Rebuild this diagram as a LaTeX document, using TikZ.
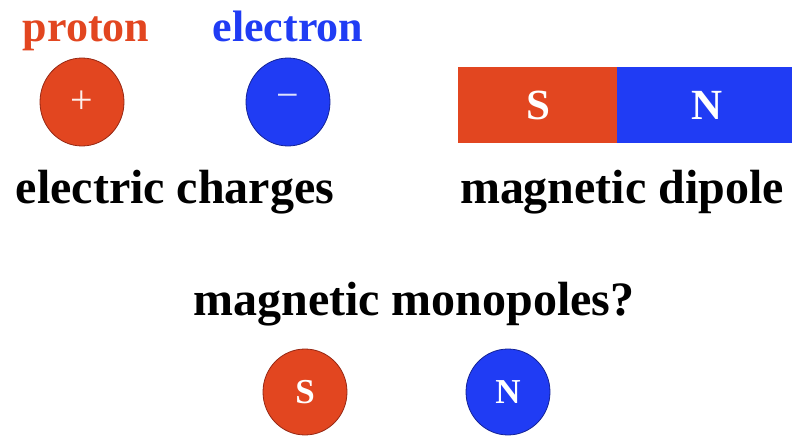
\documentclass[tikz,border=0pt]{standalone}
\usepackage{fontspec}
\setmainfont{Liberation Serif}
\definecolor{pred}{RGB}{226,70,32}
\definecolor{pblue}{RGB}{32,60,244}
\definecolor{predd}{RGB}{150,40,20}
\definecolor{pblued}{RGB}{20,35,150}
\tikzset{
  lbl/.style={anchor=base, inner sep=0pt, font=\fontsize{48}{50}\selectfont\bfseries, text=black},
  toplbl/.style={anchor=base, inner sep=0pt, font=\fontsize{44}{46}\selectfont\bfseries},
  barlet/.style={inner sep=0pt, text=white, font=\fontsize{43}{44}\selectfont\bfseries},
  ballet/.style={inner sep=0pt, text=white, font=\fontsize{35}{36}\selectfont\bfseries},
  sign/.style={inner sep=0pt, text=white!92!pred, font=\fontsize{40}{42}\selectfont},
  redball/.style={ellipse, minimum width=84pt, minimum height=88pt, fill=pred, draw=predd, line width=0.8pt},
  blueball/.style={ellipse, minimum width=84pt, minimum height=88pt, fill=pblue, draw=pblued, line width=0.8pt},
}
\usetikzlibrary{shapes.geometric}
\begin{document}
\begin{tikzpicture}[x=1pt,y=-1pt]
\useasboundingbox (0,0) rectangle (801,436);
% top labels
\node[toplbl, text=pred] (lproton) at (86,42) {proton};
\node[toplbl, text=pblue] (lelectron) at (288,42) {electron};
% charges
\node[redball] (proton) at (82,102) {};
\node[sign] (plus) at (proton.center) {+};
\node[blueball] (electron) at (288,102) {};
\node[sign, text=white!85!pblue] (minus) at (electron.center) {\raisebox{1pt}{−}};
\node[lbl] (lcharges) at (175,203) {electric charges};
% dipole
\path[fill=pred] (458,67) rectangle (617,143);
\path[fill=pblue] (617,67) rectangle (792,143);
\node (bar) at (625,105) {};
\node[barlet] (bs) at (538,105) {S};
\node[barlet] (bn) at (707,105) {N};
\node[lbl] (ldipole) at (622,203) {magnetic dipole};
% monopoles
\node[lbl] (lmono) at (414,315) {magnetic monopoles?};
\node[redball, minimum width=84pt, minimum height=86pt] (ms) at (305,392) {};
\node[ballet] (msl) at (ms.center) {S};
\node[blueball, minimum width=84pt, minimum height=86pt] (mn) at (508,392) {};
\node[ballet] (mnl) at (mn.center) {N};
\end{tikzpicture}
\end{document}
